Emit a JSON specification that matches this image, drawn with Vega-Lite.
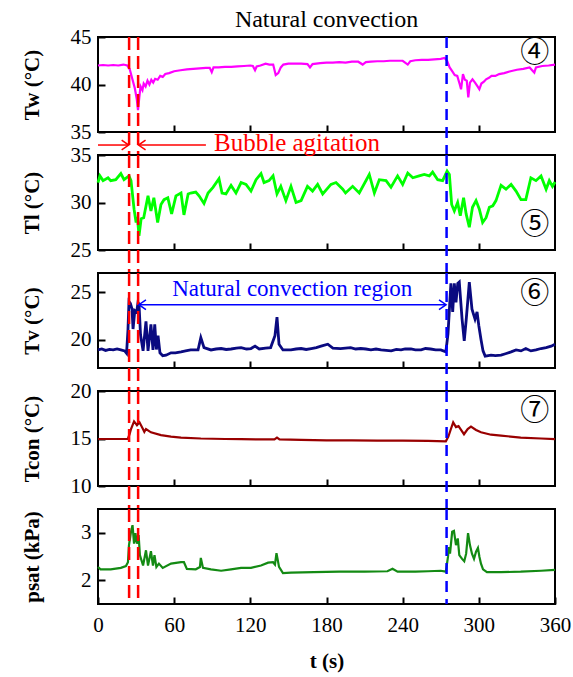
{
  "$schema": "https://vega.github.io/schema/vega-lite/v6.json",
  "background": "white",
  "padding": {"left": 20, "top": 7, "right": 4, "bottom": 7},
  "spacing": 23,
  "bounds": "flush",
  "config": {
    "view": {"stroke": "black", "strokeWidth": 2},
    "axis": {"domain": false, "grid": false, "labelFont": "Liberation Serif", "labelFontSize": 21, "labelColor": "black", "labelFlush": false, "tickColor": "black", "tickWidth": 2, "tickSize": -7, "titleFont": "Liberation Serif", "titleFontSize": 21, "titleFontWeight": "bold", "titleColor": "black"},
    "axisY": {"labelPadding": 14, "titleX": -66, "titleY": 47.5, "titleAngle": 270, "titleAlign": "center", "titleBaseline": "middle"},
    "axisX": {"labelPadding": 17, "titlePadding": 15}
  },
  "datasets": {
    "tw": [
      {"t":0,"v":42.0},{"t":4,"v":42.05},{"t":8,"v":42.0},{"t":12,"v":42.05},{"t":16,"v":42.0},{"t":20,"v":42.1},{"t":23,"v":42.0},{"t":25,"v":41.6},{"t":27,"v":40.6},{"t":29,"v":39.6},{"t":30.5,"v":38.5},{"t":31.5,"v":37.3},{"t":32.5,"v":38.6},{"t":33.5,"v":39.8},{"t":35,"v":39.4},{"t":36,"v":40.1},{"t":37.5,"v":39.8},{"t":39,"v":40.4},{"t":40.5,"v":40.0},{"t":42,"v":40.5},{"t":43.5,"v":40.2},{"t":45,"v":40.6},{"t":47,"v":40.5},{"t":49,"v":40.9},{"t":51,"v":40.8},{"t":53,"v":41.1},{"t":56,"v":41.2},{"t":60,"v":41.4},{"t":65,"v":41.5},{"t":70,"v":41.6},{"t":75,"v":41.65},{"t":80,"v":41.7},{"t":85,"v":41.75},{"t":88,"v":41.75},{"t":89.6,"v":41.3},{"t":91,"v":41.8},{"t":95,"v":41.8},{"t":100,"v":41.85},{"t":105,"v":41.85},{"t":110,"v":41.9},{"t":115,"v":41.95},{"t":120,"v":42.0},{"t":122,"v":41.95},{"t":123.7,"v":41.5},{"t":125,"v":41.9},{"t":128,"v":42.0},{"t":132,"v":42.2},{"t":135,"v":42.1},{"t":138,"v":42.1},{"t":140,"v":41.0},{"t":142,"v":41.2},{"t":144,"v":41.8},{"t":146,"v":42.1},{"t":150,"v":42.2},{"t":155,"v":42.2},{"t":160,"v":42.2},{"t":165,"v":42.15},{"t":167,"v":41.8},{"t":169,"v":42.15},{"t":175,"v":42.25},{"t":180,"v":42.3},{"t":185,"v":42.3},{"t":190,"v":42.35},{"t":195,"v":42.3},{"t":200,"v":42.4},{"t":205,"v":42.4},{"t":208.5,"v":42.1},{"t":211,"v":42.35},{"t":215,"v":42.4},{"t":220,"v":42.45},{"t":225,"v":42.45},{"t":230,"v":42.5},{"t":235,"v":42.5},{"t":240,"v":42.5},{"t":244,"v":42.1},{"t":246,"v":42.45},{"t":250,"v":42.55},{"t":255,"v":42.6},{"t":260,"v":42.6},{"t":265,"v":42.65},{"t":270,"v":42.7},{"t":273,"v":42.8},{"t":275,"v":42.5},{"t":277,"v":41.8},{"t":279,"v":41.4},{"t":281,"v":41.0},{"t":283,"v":40.9},{"t":285,"v":40.0},{"t":286,"v":39.5},{"t":287.5,"v":41.1},{"t":289,"v":40.5},{"t":290.5,"v":40.4},{"t":291.7,"v":38.65},{"t":293,"v":40.2},{"t":295,"v":40.55},{"t":297,"v":40.2},{"t":299,"v":39.8},{"t":300.4,"v":39.5},{"t":302,"v":40.1},{"t":304,"v":40.3},{"t":305.7,"v":40.55},{"t":308,"v":40.7},{"t":310,"v":40.9},{"t":313,"v":40.9},{"t":316,"v":41.1},{"t":320,"v":41.2},{"t":325,"v":41.4},{"t":330,"v":41.55},{"t":335,"v":41.65},{"t":340,"v":41.8},{"t":343.7,"v":41.25},{"t":345,"v":41.8},{"t":350,"v":41.95},{"t":355,"v":42.0},{"t":360,"v":42.1}
    ],
    "tl": [
      {"t":0,"v":32.1},{"t":1.5,"v":32.8},{"t":4,"v":32.3},{"t":7.9,"v":32.6},{"t":10,"v":32.3},{"t":14,"v":32.4},{"t":18,"v":33.05},{"t":20.5,"v":32.4},{"t":24.4,"v":32.8},{"t":26,"v":32.3},{"t":28.4,"v":29.3},{"t":30,"v":27.9},{"t":31,"v":28.5},{"t":32.3,"v":26.5},{"t":34,"v":28.3},{"t":36,"v":28.4},{"t":39.4,"v":30.7},{"t":41.7,"v":29.1},{"t":44,"v":30.5},{"t":47,"v":27.9},{"t":49.6,"v":29.8},{"t":52,"v":30.3},{"t":55,"v":30.5},{"t":58,"v":28.8},{"t":61.4,"v":30.7},{"t":65.4,"v":31.0},{"t":67.7,"v":28.7},{"t":71,"v":30.9},{"t":73,"v":31.0},{"t":77,"v":31.1},{"t":79.6,"v":30.7},{"t":83.5,"v":29.9},{"t":86.7,"v":31.0},{"t":90.6,"v":31.6},{"t":95.3,"v":32.5},{"t":97.7,"v":31.0},{"t":100.8,"v":30.9},{"t":104.8,"v":31.8},{"t":108.7,"v":31.0},{"t":112.7,"v":32.1},{"t":116.6,"v":31.9},{"t":120.5,"v":31.2},{"t":124.5,"v":32.4},{"t":128.4,"v":33.05},{"t":130.8,"v":32.1},{"t":134.7,"v":32.3},{"t":137.9,"v":32.8},{"t":141,"v":30.9},{"t":144,"v":31.7},{"t":148,"v":30.2},{"t":152,"v":31.7},{"t":156,"v":30.0},{"t":160,"v":30.2},{"t":165,"v":31.7},{"t":169,"v":31.2},{"t":173,"v":31.9},{"t":177,"v":30.9},{"t":183.5,"v":31.9},{"t":187.5,"v":32.1},{"t":192.8,"v":31.4},{"t":195,"v":31.0},{"t":200.6,"v":31.7},{"t":205.8,"v":31.0},{"t":213.7,"v":32.95},{"t":217.7,"v":31.0},{"t":221.6,"v":32.4},{"t":226.9,"v":32.3},{"t":230.8,"v":31.6},{"t":236,"v":32.8},{"t":240,"v":31.9},{"t":244,"v":33.1},{"t":248,"v":32.6},{"t":253,"v":32.8},{"t":257,"v":32.95},{"t":261,"v":32.8},{"t":263.6,"v":33.2},{"t":267.6,"v":32.4},{"t":271.5,"v":32.3},{"t":275,"v":33.3},{"t":276.8,"v":32.95},{"t":278.6,"v":29.8},{"t":280.7,"v":29.1},{"t":283.3,"v":30.0},{"t":285.4,"v":28.6},{"t":288,"v":30.5},{"t":290,"v":28.8},{"t":292.5,"v":27.4},{"t":295,"v":29.5},{"t":297.8,"v":30.2},{"t":300.4,"v":29.3},{"t":303,"v":27.9},{"t":305.7,"v":28.4},{"t":308.3,"v":29.5},{"t":311,"v":29.65},{"t":313.5,"v":30.2},{"t":317.5,"v":31.8},{"t":321.4,"v":31.4},{"t":325.4,"v":31.9},{"t":329.3,"v":31.2},{"t":333.2,"v":30.3},{"t":337,"v":30.3},{"t":341,"v":32.6},{"t":345,"v":32.3},{"t":349,"v":32.8},{"t":353,"v":31.4},{"t":355.5,"v":32.3},{"t":358,"v":31.7},{"t":360,"v":32.15}
    ],
    "tv": [
      {"t":0,"v":18.9},{"t":3,"v":19.0},{"t":6,"v":18.85},{"t":9,"v":18.95},{"t":12,"v":18.9},{"t":15,"v":19.0},{"t":18,"v":18.9},{"t":21,"v":18.8},{"t":22.5,"v":18.55},{"t":23.6,"v":21.0},{"t":24.4,"v":24.0},{"t":25.5,"v":23.8},{"t":26.8,"v":23.2},{"t":27.6,"v":21.1},{"t":29,"v":23.05},{"t":30.5,"v":22.9},{"t":31.5,"v":23.9},{"t":32.3,"v":23.75},{"t":33.5,"v":20.5},{"t":35.5,"v":18.8},{"t":37.8,"v":21.9},{"t":39.4,"v":18.8},{"t":41.7,"v":21.6},{"t":43.3,"v":18.9},{"t":44.7,"v":21.6},{"t":46,"v":18.95},{"t":47.3,"v":20.4},{"t":48.8,"v":18.6},{"t":51,"v":18.3},{"t":53.6,"v":18.35},{"t":57.5,"v":18.6},{"t":61,"v":18.6},{"t":65.4,"v":18.7},{"t":69,"v":18.8},{"t":73,"v":18.9},{"t":78.8,"v":18.9},{"t":81,"v":20.2},{"t":83.5,"v":19.15},{"t":89,"v":18.9},{"t":93,"v":19.0},{"t":97,"v":19.05},{"t":101,"v":18.95},{"t":104.8,"v":19.0},{"t":109,"v":19.1},{"t":112.7,"v":19.15},{"t":117,"v":19.0},{"t":120.5,"v":19.05},{"t":123.7,"v":19.3},{"t":127,"v":19.0},{"t":132,"v":19.1},{"t":136,"v":19.15},{"t":139.4,"v":20.4},{"t":141,"v":22.35},{"t":142.6,"v":19.5},{"t":145.7,"v":18.9},{"t":152,"v":18.9},{"t":156,"v":19.0},{"t":160,"v":19.05},{"t":164,"v":18.95},{"t":168,"v":19.05},{"t":172,"v":19.15},{"t":175.7,"v":19.3},{"t":181,"v":19.5},{"t":185,"v":19.1},{"t":191,"v":19.05},{"t":195,"v":19.1},{"t":199,"v":19.15},{"t":203,"v":19.0},{"t":207,"v":19.05},{"t":211,"v":19.0},{"t":215,"v":18.9},{"t":219,"v":19.0},{"t":223,"v":18.9},{"t":227,"v":18.85},{"t":231,"v":18.8},{"t":235,"v":18.95},{"t":238.7,"v":18.9},{"t":242,"v":19.0},{"t":246.5,"v":19.0},{"t":250,"v":18.9},{"t":254.5,"v":18.9},{"t":258,"v":19.05},{"t":262,"v":19.0},{"t":266,"v":18.9},{"t":270,"v":18.9},{"t":274,"v":18.7},{"t":275.7,"v":20.6},{"t":277,"v":23.6},{"t":278,"v":25.9},{"t":279.4,"v":22.9},{"t":280.7,"v":25.9},{"t":282,"v":23.9},{"t":283.4,"v":25.9},{"t":284.6,"v":26.05},{"t":286.8,"v":22.15},{"t":288.5,"v":19.85},{"t":290,"v":22.0},{"t":291.2,"v":23.9},{"t":292.5,"v":26.05},{"t":294.6,"v":23.2},{"t":297,"v":22.15},{"t":298.6,"v":22.9},{"t":300,"v":21.45},{"t":301.7,"v":20.0},{"t":303.3,"v":18.8},{"t":305,"v":18.25},{"t":309.6,"v":18.35},{"t":313,"v":18.3},{"t":317.5,"v":18.35},{"t":321,"v":18.5},{"t":325.4,"v":18.7},{"t":329.3,"v":18.9},{"t":333.2,"v":18.8},{"t":337,"v":19.05},{"t":341,"v":18.8},{"t":345,"v":18.9},{"t":349,"v":19.05},{"t":353,"v":19.15},{"t":357,"v":19.3},{"t":360,"v":19.5}
    ],
    "tc": [
      {"t":0,"v":14.95},{"t":10,"v":14.95},{"t":20,"v":14.95},{"t":23.5,"v":14.95},{"t":25,"v":15.5},{"t":26,"v":16.0},{"t":28.4,"v":16.8},{"t":30.7,"v":16.4},{"t":32.7,"v":16.7},{"t":35.2,"v":16.05},{"t":36.5,"v":15.7},{"t":37.8,"v":16.0},{"t":41.7,"v":15.65},{"t":49.6,"v":15.35},{"t":57.5,"v":15.2},{"t":65.4,"v":15.1},{"t":81,"v":15.0},{"t":100,"v":14.95},{"t":112.7,"v":14.93},{"t":130,"v":14.9},{"t":139,"v":14.9},{"t":141,"v":15.1},{"t":143,"v":14.9},{"t":160,"v":14.85},{"t":180,"v":14.8},{"t":200,"v":14.8},{"t":220,"v":14.78},{"t":240,"v":14.77},{"t":260,"v":14.75},{"t":274,"v":14.7},{"t":276,"v":15.2},{"t":278,"v":16.0},{"t":279.8,"v":16.7},{"t":282,"v":16.2},{"t":284,"v":16.3},{"t":286,"v":15.9},{"t":288.3,"v":15.45},{"t":291.2,"v":16.0},{"t":293.8,"v":16.25},{"t":297.8,"v":15.9},{"t":301.7,"v":15.65},{"t":309.6,"v":15.4},{"t":317.5,"v":15.3},{"t":333,"v":15.1},{"t":349,"v":15.0},{"t":360,"v":14.93}
    ],
    "ps": [
      {"t":0,"v":2.28},{"t":2,"v":2.23},{"t":10,"v":2.23},{"t":18,"v":2.26},{"t":22,"v":2.3},{"t":23.6,"v":2.38},{"t":24.4,"v":2.74},{"t":26,"v":3.02},{"t":27.2,"v":3.16},{"t":28.4,"v":2.77},{"t":29.5,"v":2.99},{"t":30.7,"v":2.77},{"t":32,"v":2.95},{"t":33,"v":2.53},{"t":35.5,"v":2.31},{"t":37.8,"v":2.63},{"t":39.4,"v":2.31},{"t":41.7,"v":2.61},{"t":43.3,"v":2.31},{"t":44.5,"v":2.53},{"t":46,"v":2.28},{"t":48,"v":2.35},{"t":51,"v":2.26},{"t":57.5,"v":2.35},{"t":65.4,"v":2.38},{"t":67.7,"v":2.38},{"t":70,"v":2.24},{"t":77,"v":2.23},{"t":80.3,"v":2.28},{"t":81,"v":2.47},{"t":82.7,"v":2.26},{"t":89,"v":2.23},{"t":97,"v":2.2},{"t":104.8,"v":2.23},{"t":112.7,"v":2.26},{"t":120.5,"v":2.26},{"t":128.4,"v":2.31},{"t":134,"v":2.37},{"t":137.9,"v":2.38},{"t":139.4,"v":2.33},{"t":140.6,"v":2.57},{"t":142.6,"v":2.28},{"t":145.7,"v":2.15},{"t":152,"v":2.16},{"t":170,"v":2.17},{"t":190,"v":2.18},{"t":210,"v":2.18},{"t":228,"v":2.19},{"t":232,"v":2.24},{"t":236,"v":2.18},{"t":250,"v":2.18},{"t":260,"v":2.19},{"t":270,"v":2.2},{"t":274,"v":2.18},{"t":275.7,"v":2.49},{"t":276.5,"v":2.7},{"t":277.3,"v":2.56},{"t":279,"v":3.02},{"t":280.4,"v":3.04},{"t":282,"v":2.74},{"t":283.4,"v":2.88},{"t":284.6,"v":2.53},{"t":286.8,"v":2.45},{"t":288.5,"v":2.4},{"t":290,"v":2.56},{"t":291.5,"v":2.99},{"t":293,"v":2.74},{"t":294.6,"v":2.56},{"t":296.2,"v":2.45},{"t":297.8,"v":2.6},{"t":299.3,"v":2.68},{"t":300.5,"v":2.49},{"t":301.7,"v":2.35},{"t":303.3,"v":2.23},{"t":306.4,"v":2.17},{"t":317.5,"v":2.17},{"t":333,"v":2.18},{"t":349,"v":2.2},{"t":360,"v":2.22}
    ],
    "red": [{"t": 24.5}, {"t": 31.6}],
    "one": [{}]
  },
  "vconcat": [
    {
      "width": 457, "height": 95,
      "title": {"text": "Natural convection", "font": "Liberation Serif", "fontSize": 24, "fontWeight": "normal", "color": "black", "offset": -6, "anchor": "middle"},
      "layer": [
        {"data": {"name": "tw"}, "mark": {"type": "line", "color": "#ff00ff", "strokeWidth": 2.2},
         "encoding": {"x": {"field": "t", "type": "quantitative", "scale": {"domain": [0, 360], "nice": false}, "axis": {"values": [60, 120, 180, 240, 300], "labels": false, "title": null}},
                      "y": {"field": "v", "type": "quantitative", "scale": {"domain": [35, 45], "nice": false}, "axis": {"values": [35, 40, 45], "format": "d", "title": "Tw (°C)"}}}},
        {"data": {"name": "red"}, "mark": {"type": "rule", "color": "#ff0000", "strokeWidth": 2.5, "strokeDash": [13, 6]},
         "encoding": {"x": {"field": "t", "type": "quantitative", "scale": {"domain": [0, 360]}}, "y": {"datum": 45}, "y2": {"datum": 32.58}}},
        {"data": {"name": "one"}, "mark": {"type": "rule", "color": "#0000ff", "strokeWidth": 2.5, "strokeDash": [11, 7]},
         "encoding": {"x": {"datum": 274.6, "scale": {"domain": [0, 360]}}, "y": {"datum": 45}, "y2": {"datum": 32.58}}},
        {"data": {"name": "one"}, "mark": {"type": "text", "text": "④", "font": "Noto Sans CJK JP", "fontSize": 29, "color": "black", "align": "center", "baseline": "middle"},
         "encoding": {"x": {"datum": 344, "scale": {"domain": [0, 360]}}, "y": {"datum": 43.3}}}
      ]
    },
    {
      "width": 457, "height": 95,
      "layer": [
        {"data": {"name": "tl"}, "mark": {"type": "line", "color": "#00ff00", "strokeWidth": 2.8},
         "encoding": {"x": {"field": "t", "type": "quantitative", "scale": {"domain": [0, 360], "nice": false}, "axis": {"values": [60, 120, 180, 240, 300], "labels": false, "title": null}},
                      "y": {"field": "v", "type": "quantitative", "scale": {"domain": [25, 35], "nice": false}, "axis": {"values": [25, 30, 35], "format": "d", "title": "Tl (°C)"}}}},
        {"data": {"name": "red"}, "mark": {"type": "rule", "color": "#ff0000", "strokeWidth": 2.5, "strokeDash": [13, 6]},
         "encoding": {"x": {"field": "t", "type": "quantitative", "scale": {"domain": [0, 360]}}, "y": {"datum": 35}, "y2": {"datum": 22.58}}},
        {"data": {"name": "one"}, "mark": {"type": "rule", "color": "#0000ff", "strokeWidth": 2.5, "strokeDash": [11, 7]},
         "encoding": {"x": {"datum": 274.6, "scale": {"domain": [0, 360]}}, "y": {"datum": 35}, "y2": {"datum": 22.58}}},
        {"data": {"name": "one"}, "mark": {"type": "rule", "color": "#ff0000", "strokeWidth": 1.5},
         "encoding": {"x": {"datum": 0, "scale": {"domain": [0, 360]}}, "x2": {"datum": 24.0}, "y": {"datum": 36.05}}},
        {"data": {"name": "one"}, "mark": {"type": "rule", "color": "#ff0000", "strokeWidth": 1.5},
         "encoding": {"x": {"datum": 32.0, "scale": {"domain": [0, 360]}}, "x2": {"datum": 85}, "y": {"datum": 36.05}}},
        {"data": {"name": "one"}, "mark": {"type": "point", "shape": "M -1 -0.7 L 0 0 L -1 0.7", "filled": false, "color": "#ff0000", "strokeWidth": 1.5, "size": 200, "opacity": 1},
         "encoding": {"x": {"datum": 24.2, "scale": {"domain": [0, 360]}}, "y": {"datum": 36.05}}},
        {"data": {"name": "one"}, "mark": {"type": "point", "shape": "M 1 -0.7 L 0 0 L 1 0.7", "filled": false, "color": "#ff0000", "strokeWidth": 1.5, "size": 200, "opacity": 1},
         "encoding": {"x": {"datum": 31.9, "scale": {"domain": [0, 360]}}, "y": {"datum": 36.05}}},
        {"data": {"name": "one"}, "mark": {"type": "text", "text": "Bubble agitation", "font": "Liberation Serif", "fontSize": 25, "color": "#ff0000", "align": "left", "baseline": "alphabetic"},
         "encoding": {"x": {"datum": 91.4, "scale": {"domain": [0, 360]}}, "y": {"datum": 35.42}}},
        {"data": {"name": "one"}, "mark": {"type": "text", "text": "⑤", "font": "Noto Sans CJK JP", "fontSize": 29, "color": "black", "align": "center", "baseline": "middle"},
         "encoding": {"x": {"datum": 344, "scale": {"domain": [0, 360]}}, "y": {"datum": 27.66}}}
      ]
    },
    {
      "width": 457, "height": 95,
      "layer": [
        {"data": {"name": "tv"}, "mark": {"type": "line", "color": "#0a0a80", "strokeWidth": 2.8},
         "encoding": {"x": {"field": "t", "type": "quantitative", "scale": {"domain": [0, 360], "nice": false}, "axis": {"values": [60, 120, 180, 240, 300], "labels": false, "title": null}},
                      "y": {"field": "v", "type": "quantitative", "scale": {"domain": [17, 27], "nice": false}, "axis": {"values": [20, 25], "format": "d", "title": "Tv (°C)"}}}},
        {"data": {"name": "red"}, "mark": {"type": "rule", "color": "#ff0000", "strokeWidth": 2.5, "strokeDash": [13, 6]},
         "encoding": {"x": {"field": "t", "type": "quantitative", "scale": {"domain": [0, 360]}}, "y": {"datum": 27}, "y2": {"datum": 14.58}}},
        {"data": {"name": "one"}, "mark": {"type": "rule", "color": "#0000ff", "strokeWidth": 2.5, "strokeDash": [11, 7]},
         "encoding": {"x": {"datum": 274.6, "scale": {"domain": [0, 360]}}, "y": {"datum": 27}, "y2": {"datum": 14.58}}},
        {"data": {"name": "one"}, "mark": {"type": "rule", "color": "#0000ff", "strokeWidth": 1.5},
         "encoding": {"x": {"datum": 32.5, "scale": {"domain": [0, 360]}}, "x2": {"datum": 273.8}, "y": {"datum": 23.66}}},
        {"data": {"name": "one"}, "mark": {"type": "point", "shape": "M 1 -0.7 L 0 0 L 1 0.7", "filled": false, "color": "#0000ff", "strokeWidth": 1.5, "size": 200, "opacity": 1},
         "encoding": {"x": {"datum": 32.2, "scale": {"domain": [0, 360]}}, "y": {"datum": 23.66}}},
        {"data": {"name": "one"}, "mark": {"type": "point", "shape": "M -1 -0.7 L 0 0 L -1 0.7", "filled": false, "color": "#0000ff", "strokeWidth": 1.5, "size": 200, "opacity": 1},
         "encoding": {"x": {"datum": 274.2, "scale": {"domain": [0, 360]}}, "y": {"datum": 23.66}}},
        {"data": {"name": "one"}, "mark": {"type": "text", "text": "Natural convection region", "font": "Liberation Serif", "fontSize": 23, "color": "#0000ff", "align": "center", "baseline": "alphabetic"},
         "encoding": {"x": {"datum": 153, "scale": {"domain": [0, 360]}}, "y": {"datum": 24.58}}},
        {"data": {"name": "one"}, "mark": {"type": "text", "text": "⑥", "font": "Noto Sans CJK JP", "fontSize": 29, "color": "black", "align": "center", "baseline": "middle"},
         "encoding": {"x": {"datum": 344, "scale": {"domain": [0, 360]}}, "y": {"datum": 24.8}}}
      ]
    },
    {
      "width": 457, "height": 95,
      "layer": [
        {"data": {"name": "tc"}, "mark": {"type": "line", "color": "#990000", "strokeWidth": 2.2},
         "encoding": {"x": {"field": "t", "type": "quantitative", "scale": {"domain": [0, 360], "nice": false}, "axis": {"values": [60, 120, 180, 240, 300], "labels": false, "title": null}},
                      "y": {"field": "v", "type": "quantitative", "scale": {"domain": [10, 20], "nice": false}, "axis": {"values": [10, 15, 20], "format": "d", "title": "Tcon (°C)"}}}},
        {"data": {"name": "red"}, "mark": {"type": "rule", "color": "#ff0000", "strokeWidth": 2.5, "strokeDash": [13, 6]},
         "encoding": {"x": {"field": "t", "type": "quantitative", "scale": {"domain": [0, 360]}}, "y": {"datum": 20}, "y2": {"datum": 7.58}}},
        {"data": {"name": "one"}, "mark": {"type": "rule", "color": "#0000ff", "strokeWidth": 2.5, "strokeDash": [11, 7]},
         "encoding": {"x": {"datum": 274.6, "scale": {"domain": [0, 360]}}, "y": {"datum": 20}, "y2": {"datum": 7.58}}},
        {"data": {"name": "one"}, "mark": {"type": "text", "text": "⑦", "font": "Noto Sans CJK JP", "fontSize": 29, "color": "black", "align": "center", "baseline": "middle"},
         "encoding": {"x": {"datum": 344, "scale": {"domain": [0, 360]}}, "y": {"datum": 17.86}}}
      ]
    },
    {
      "width": 457, "height": 95,
      "layer": [
        {"data": {"name": "ps"}, "mark": {"type": "line", "color": "#138a13", "strokeWidth": 2.2},
         "encoding": {"x": {"field": "t", "type": "quantitative", "scale": {"domain": [0, 360], "nice": false}, "axis": {"values": [0, 60, 120, 180, 240, 300, 360], "format": "d", "title": "t (s)"}},
                      "y": {"field": "v", "type": "quantitative", "scale": {"domain": [1.5, 3.5], "nice": false}, "axis": {"values": [2, 3], "format": "d", "title": "psat (kPa)"}}}},
        {"data": {"name": "red"}, "mark": {"type": "rule", "color": "#ff0000", "strokeWidth": 2.5, "strokeDash": [13, 6]},
         "encoding": {"x": {"field": "t", "type": "quantitative", "scale": {"domain": [0, 360]}}, "y": {"datum": 3.5}, "y2": {"datum": 1.5}}},
        {"data": {"name": "one"}, "mark": {"type": "rule", "color": "#0000ff", "strokeWidth": 2.5, "strokeDash": [11, 7]},
         "encoding": {"x": {"datum": 274.6, "scale": {"domain": [0, 360]}}, "y": {"datum": 3.5}, "y2": {"datum": 1.5}}}
      ]
    }
  ]
}
